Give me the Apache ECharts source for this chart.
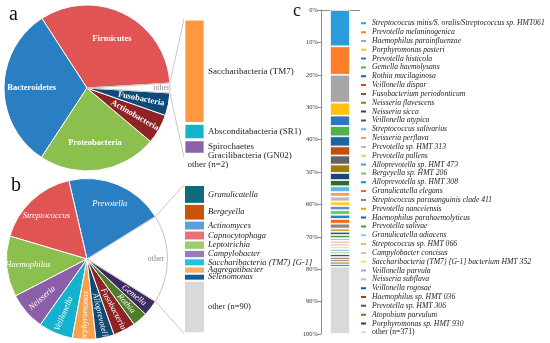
<!DOCTYPE html>
<html><head><meta charset="utf-8">
<script src="https://cdn.jsdelivr.net/npm/echarts@6/dist/echarts.min.js"></script>
<style>html,body{margin:0;padding:0;background:#fff}#c{width:550px;height:343px}</style>
</head><body><div id="c"></div>
<script>
// ---------- DATA ----------
// Panel a: phyla
const phylaNames = ['Firmicutes', 'Bacteroidetes', 'Proteobacteria', 'Actinobacteria', 'Fusobacteria', 'other'];
const phylaValues = [33.2, 31.6, 23.1, 5.8, 4.4, 1.9];
const phylaColors = ['#e15454', '#2a7fc2', '#8bc04f', '#8e2326', '#0d4a78', '#ffffff'];
// Panel a: breakdown of "other" phyla
const otherPhylaNames = ['Saccharibacteria (TM7)', 'Absconditabacteria (SR1)', 'Spirochaetes', 'Gracilibacteria (GN02)', 'other (n=2)'];
const otherPhylaValues = [75.7, 11.8, 10.5, 1.8, 0.2];
const otherPhylaColors = ['#fd983e', '#12b4cc', '#8b62a8', '#8bc04f', '#d9d9d9'];
// Panel b: genera
const generaNames = ['Prevotella', 'Streptococcus', 'Haemophilus', 'Neisseria', 'Veillonella', 'Porphyromonas', 'Alloprevotella', 'Fusobacterium', 'Rothia', 'Gemella', 'other'];
const generaValues = [19.8, 16.8, 12.2, 7.6, 6.9, 4.7, 3.7, 4.5, 3.0, 3.2, 17.7];
const generaColors = ['#2a7fc2', '#e15454', '#8bc04f', '#8b5ea8', '#13b2cf', '#f9a14a', '#0d4a78', '#8e2326', '#4e7c27', '#3e2b62', '#ffffff'];
// Panel b: breakdown of "other" genera
const otherGeneraNames = ['Granulicatella', 'Bergeyella', 'Actinomyces', 'Capnocytophaga', 'Leptotrichia', 'Campylobacter', 'Saccharibacteria (TM7) [G-1]', 'Aggregatibacter', 'Selenomonas', 'other (n=90)'];
const otherGeneraValues = [12.7, 11.3, 6.7, 6.7, 6.3, 5.7, 5.5, 4.9, 4.7, 35.5];
const otherGeneraColors = ['#0f6a7c', '#c95409', '#5da0d8', '#e57373', '#9ccc6b', '#9b79c0', '#20c3db', '#ffac62', '#0f5f9e', '#d9d9d9'];
// Panel c: species
const speciesNames = [
  'Streptococcus mitis/S. oralis/Streptococcus sp. HMT061', 'Prevotella melaninogenica', 'Haemophilus parainfluenzae',
  'Porphyromonas pasteri', 'Prevotella histicola', 'Gemella haemolysans', 'Rothia mucilaginosa', 'Veillonella dispar',
  'Fusobacterium periodonticum', 'Neisseria flavescens', 'Neisseria sicca', 'Veillonella atypica', 'Streptococcus salivarius',
  'Neisseria perflava', 'Prevotella sp. HMT 313', 'Prevotella pallens', 'Alloprevotella sp. HMT 473', 'Bergeyella sp. HMT 206',
  'Alloprevotella sp. HMT 308', 'Granulicatella elegans', 'Streptococcus parasanguinis clade 411', 'Prevotella nanceiensis',
  'Haemophilus parahaemolyticus', 'Prevotella salivae', 'Granulicatella adiacens', 'Streptococcus sp. HMT 066',
  'Campylobacter concisus', 'Saccharibacteria (TM7) [G-1] bacterium HMT 352', 'Veillonella parvula', 'Neisseria subflava',
  'Veillonella rogosae', 'Haemophilus sp. HMT 036', 'Prevotella sp. HMT 306', 'Atopobium parvulum', 'Porphyromonas sp. HMT 930',
  'other (n=371)'];
const speciesValues = [11.2, 8.8, 8.6, 4.0, 3.2, 3.2, 3.1, 2.8, 2.8, 2.6, 2.2, 1.9, 1.8, 1.4, 1.5, 1.4, 1.3, 1.4, 1.3, 1.45,
  1.5, 1.0, 1.0, 0.95, 0.85, 0.85, 0.85, 0.8, 0.8, 0.8, 0.9, 0.75, 0.7, 0.8, 0.7, 20.8];
const speciesColors = ['#2b9dd9', '#fd7e2a', '#a6a6a6', '#fec20e', '#2f75c6', '#4db34a', '#1c63a3', '#c0500f', '#636363',
  '#a07b0c', '#1f4478', '#2f6b2a', '#5fb6ea', '#ff9a62', '#bcbcbc', '#ffcf2e', '#5f8fd8', '#6fc463', '#1588cf', '#ff6415',
  '#878787', '#d9a000', '#1d56a8', '#3c9a32', '#8ccbf0', '#ffb184', '#c8c8c8', '#ffdc5c', '#88aee6', '#9bd68d', '#145a96',
  '#a3400e', '#545454', '#94690f', '#1a3966', '#d9d9d9'];
const percentTicks = [0, 10, 20, 30, 40, 50, 60, 70, 80, 90, 100];

// ---------- LAYOUT ----------
const SERIF = "'Liberation Serif', 'DejaVu Serif', serif";
const PIE_A = { cx: 87, cy: 88, r: 83 };
const PIE_B = { cx: 87, cy: 259, r: 80.5 };
const BAR_A = { left: 184, top: 19, width: 21, height: 138 };
const BAR_B = { left: 184, top: 185, width: 21, height: 148.3 };
const GRID_C = { left: 321, top: 10, width: 38, height: 324 };
const radialA = ['Actinobacteria', 'Fusobacteria'];
const radialB = ['Neisseria', 'Veillonella', 'Porphyromonas', 'Alloprevotella', 'Fusobacterium', 'Rothia', 'Gemella'];
const TEXT_DARK = '#222';

const chart = echarts.init(document.getElementById('c'), null, { renderer: 'canvas' });

function total(arr) { return arr.reduce((s, v) => s + v, 0); }
function otherStart(values) { return values[values.length - 1] / total(values) * 180; }

function pieSeries(P, names, values, colors, radial, labelStyle, otherR0) {
  const sa = otherStart(values);
  const base = {
    type: 'pie', center: [P.cx, P.cy], clockwise: false, startAngle: sa, silent: true,
    labelLine: { show: false }, emphasis: { disabled: true }
  };
  const visible = Object.assign({}, base, {
    radius: [0, P.r],
    data: names.map((n, i) => ({ name: n, value: values[i],
      itemStyle: { color: colors[i], borderColor: n === 'other' ? '#c4c4c4' : '#ffffff', borderWidth: 1 } })),
    label: { show: false }
  });
  const labels = Object.assign({}, base, {
    radius: [P.r * labelStyle.r0, P.r], z: 3,
    itemStyle: { color: 'rgba(0,0,0,0)', borderWidth: 0 },
    data: names.map((n, i) => ({ name: n, value: values[i],
      label: { show: n !== 'other', rotate: radial.includes(n) ? 'radial' : 0 } })),
    label: { position: 'inside', formatter: '{b}', color: '#fff', fontFamily: SERIF,
      fontSize: labelStyle.size, fontWeight: labelStyle.weight, fontStyle: labelStyle.style }
  });
  const otherLabel = Object.assign({}, base, {
    radius: [P.r * otherR0, P.r], z: 3,
    itemStyle: { color: 'rgba(0,0,0,0)', borderWidth: 0 },
    data: names.map((n, i) => ({ name: n, value: values[i], label: { show: n === 'other' } })),
    label: { position: 'inside', formatter: '{b}', color: '#8a8a8a', fontFamily: SERIF, fontSize: 8 }
  });
  return [visible, labels, otherLabel];
}

function barSeries(names, values, colors, idx, stack, labelStyle) {
  return names.map((n, i) => {
    const isOther = n.indexOf('other') === 0;
    const s = {
      type: 'bar', name: n, stack: stack, xAxisIndex: idx, yAxisIndex: idx, barWidth: '100%',
      data: [values[i]], silent: true,
      itemStyle: { color: colors[i], borderColor: '#fff', borderWidth: labelStyle.border },
      label: { show: true, position: 'right', distance: 3, formatter: n, color: TEXT_DARK,
        fontFamily: SERIF, fontSize: labelStyle.size, fontStyle: isOther ? 'normal' : labelStyle.style }
    };
    if (isOther && labelStyle.otherBelow) {
      s.label.position = [4, 8];
      s.label.align = 'left';
      s.label.verticalAlign = 'middle';
    }
    return s;
  });
}

const series = [].concat(
  pieSeries(PIE_A, phylaNames, phylaValues, phylaColors, radialA, { r0: 0.26, size: 8.5, weight: 'bold', style: 'normal' }, 0.72),
  pieSeries(PIE_B, generaNames, generaValues, generaColors, radialB, { r0: 0.4, size: 8.5, weight: 'normal', style: 'italic' }, 0.64),
  barSeries(otherPhylaNames, otherPhylaValues, otherPhylaColors, 0, 'a', { size: 9, style: 'normal', border: 1.4, otherBelow: true }),
  barSeries(otherGeneraNames, otherGeneraValues, otherGeneraColors, 1, 'b', { size: 8.5, style: 'italic', border: 1, otherBelow: false }),
  speciesNames.map((n, i) => ({
    type: 'bar', name: n, stack: 'c', xAxisIndex: 2, yAxisIndex: 2, barWidth: 20, data: [speciesValues[i]], silent: true,
    itemStyle: { color: speciesColors[i], borderColor: '#fff', borderWidth: 0.8 }
  }))
);

const hiddenCat = { type: 'category', data: ['x'], show: false };
const hiddenVal = { type: 'value', min: 0, max: 100, inverse: true, show: false };
const legendText = { fontFamily: SERIF, fontSize: 7.7, color: TEXT_DARK, lineHeight: 8 };

function edge(P, deg) {
  const a = deg * Math.PI / 180;
  return [P.cx + P.r * Math.cos(a), P.cy - P.r * Math.sin(a)];
}
const saA = otherStart(phylaValues), saB = otherStart(generaValues);
const connStyle = { stroke: '#c8c8c8', lineWidth: 1 };
function seg(p, q) { return { type: 'line', silent: true, shape: { x1: p[0], y1: p[1], x2: q[0], y2: q[1] }, style: connStyle }; }

const option = {
  animation: false,
  backgroundColor: '#fff',
  grid: [
    { left: BAR_A.left, top: BAR_A.top, width: BAR_A.width, height: BAR_A.height },
    { left: BAR_B.left, top: BAR_B.top, width: BAR_B.width, height: BAR_B.height },
    { left: GRID_C.left, top: GRID_C.top, width: GRID_C.width, height: GRID_C.height }
  ],
  xAxis: [
    Object.assign({ gridIndex: 0 }, hiddenCat),
    Object.assign({ gridIndex: 1 }, hiddenCat),
    { gridIndex: 2, type: 'category', data: ['x'], position: 'bottom',
      axisLine: { show: true, lineStyle: { color: '#8a8a8a', width: 1 } }, axisTick: { show: false }, axisLabel: { show: false } },
    { gridIndex: 2, type: 'category', data: ['x'], position: 'top',
      axisLine: { show: true, lineStyle: { color: '#8a8a8a', width: 1 } }, axisTick: { show: false }, axisLabel: { show: false } }
  ],
  yAxis: [
    Object.assign({ gridIndex: 0 }, hiddenVal),
    Object.assign({ gridIndex: 1 }, hiddenVal),
    { gridIndex: 2, type: 'value', min: percentTicks[0], max: percentTicks[percentTicks.length - 1], interval: 10, inverse: true,
      axisLine: { show: true, lineStyle: { color: '#8a8a8a', width: 1 } },
      axisTick: { show: true, length: 3, lineStyle: { color: '#8a8a8a' } },
      splitLine: { show: false },
      axisLabel: { formatter: '{value}%', margin: 3, color: '#333', fontFamily: SERIF, fontSize: 6.5 } }
  ],
  legend: {
    data: speciesNames,
    orient: 'vertical', left: 354, top: 14.3, itemWidth: 7, itemHeight: 4, itemGap: 0.83,
    icon: 'rect',
    textStyle: Object.assign({ fontStyle: 'italic' }, legendText)
  },
  graphic: [
    seg(edge(PIE_A, saA), [BAR_A.left, BAR_A.top]),
    seg(edge(PIE_A, -saA), [BAR_A.left, BAR_A.top + BAR_A.height]),
    seg(edge(PIE_B, saB), [BAR_B.left, BAR_B.top]),
    seg(edge(PIE_B, -saB), [BAR_B.left, BAR_B.top + BAR_B.height]),
    { type: 'text', left: 9, top: 5, style: { text: 'a', font: '20px ' + SERIF, fill: '#111' } },
    { type: 'text', left: 11, top: 176, style: { text: 'b', font: '20px ' + SERIF, fill: '#111' } },
    { type: 'text', left: 293, top: 2, style: { text: 'c', font: '18px ' + SERIF, fill: '#111' } }
  ],
  series: series
};
chart.setOption(option);

// Make sure the legend names are drawn in dark text (and "other" upright), as in the reference.
const speciesSet = new Set(speciesNames);
function fixLegendText() {
  let changed = false;
  chart.getZr().storage.getDisplayList(true).forEach(el => {
    const t = el.style && el.style.text;
    if (t != null && speciesSet.has(String(t))) {
      if (el.style.fill !== TEXT_DARK) { el.style.fill = TEXT_DARK; changed = true; }
      if (el.style.stroke) { el.style.stroke = null; changed = true; }
      if (String(t).indexOf('other') === 0 && el.style.font && el.style.font.indexOf('italic') >= 0) {
        el.style.font = el.style.font.replace('italic', 'normal'); changed = true;
      }
      if (changed && el.markRedraw) el.markRedraw();
    }
  });
  if (changed) chart.getZr().refreshImmediately();
}
fixLegendText();
chart.on('finished', fixLegendText);
</script></body></html>
